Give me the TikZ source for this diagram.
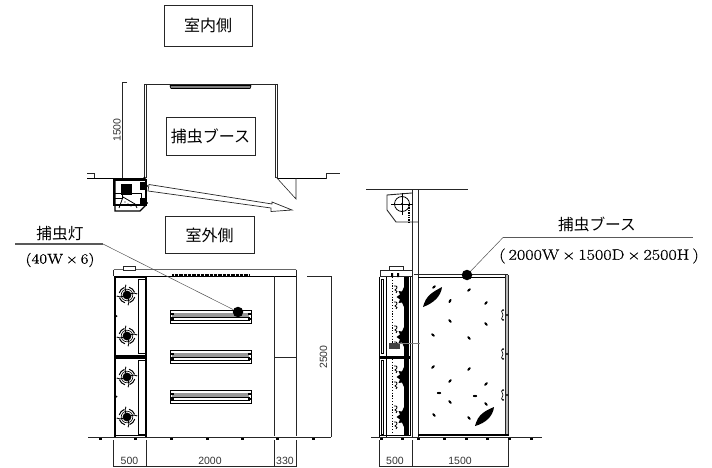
\documentclass[tikz,border=0pt]{standalone}
\usepackage{fontspec}
\newfontfamily\jpf{Noto Sans CJK JP}
\newfontfamily\dimf{Liberation Sans}
\newfontfamily\serf[FakeBold=0.5]{Latin Modern Roman}
\usetikzlibrary{calc}
\definecolor{ln}{gray}{0.15}
\definecolor{wallgray}{gray}{0.72}
\tikzset{
 lbox/.style={draw=black!85,line width=0.8pt,minimum width=#1,inner sep=0pt,font=\jpf\fontsize{16}{16}\selectfont,text=black},
 jplab/.style={inner sep=0pt,font=\jpf\fontsize{15.7}{16}\selectfont,text=black},
 serlab/.style={inner sep=0pt,xscale=1.14,font=\serf\fontsize{#1}{14}\selectfont,text=black},
 dimlab/.style={inner sep=0pt,font=\dimf\fontsize{10.5}{12}\selectfont,text=black!80},
 thinl/.style={draw=ln,line width=0.6pt},
 medl/.style={draw=ln,line width=0.9pt},
 thick1/.style={draw=black,line width=1.4pt},
 dot1/.style={circle,fill=black,minimum size=10.5pt,inner sep=0pt},
 leader/.style={draw=ln!80,line width=0.5pt},
 callline/.style={draw=black!65,line width=1.3pt},
 barl/.style={draw=black,line width=1pt,fill=white},
}
\newcommand{\lowtxt}[1]{\raisebox{-6pt}[0pt][0pt]{#1}}
\newcommand{\fanx}[2]{%
 \begin{scope}[shift={(#1,#2)}]
 \fill[black] (0,0) circle (4.4);
 \draw[black,line width=0.6pt] (0,0) circle (5.8);
 \foreach \a in {20,110,200,290}{
  \draw[black,line width=1pt,rotate=\a] (8,0) arc[start angle=0,end angle=-55,radius=8];
  \draw[black,line width=0.9pt,rotate=\a] (4,0) .. controls (6.5,0.5) and (8.5,0.5) .. (10,2.5);
 }
 \end{scope}}
\newcommand{\lamp}[1]{%
 \draw[barl] (170,#1) rectangle (251,#1+13.5);
 \fill[gray!80] (172,#1+2.5) rectangle (249,#1+6.5);
 \draw[black,line width=0.7pt] (171,#1+7) -- (250,#1+7);
 \draw[black,line width=0.7pt] (171,#1+10.5) -- (250,#1+10.5);
 \fill[black] (171,#1+3) rectangle (173.5,#1+5);
 \fill[black] (171,#1+8) rectangle (173.5,#1+10);
 \fill[black] (248,#1+3) rectangle (250.5,#1+5);
 \fill[black] (248,#1+8) rectangle (250.5,#1+10);
}
\newcommand{\bugx}[3][35]{\fill[black,rotate around={#1:(#2,#3)}] (#2,#3) ellipse (2.2 and 1.1);}
\newcommand{\gearx}[1]{%
 \fill[black] (396.5,#1) -- (400,#1-2.5) -- (398.5,#1-6) -- (402,#1-5.5) -- (404,#1-10) -- (404,#1+10) -- (402,#1+5.5) -- (398.5,#1+6) -- (400,#1+2.5) -- cycle;
 \draw[black,line width=0.8pt] (394,#1-11) .. controls (397,#1-12) and (398.5,#1-9) .. (395,#1-7) .. controls (397,#1-6) and (398,#1-5) .. (396,#1-4);
 \draw[black,line width=0.8pt] (394,#1+5) .. controls (397,#1+4) and (398.5,#1+7) .. (395,#1+9) .. controls (397,#1+10) and (398,#1+11) .. (396,#1+12);
}
\begin{document}
\begin{tikzpicture}[x=1pt,y=-1pt]
\useasboundingbox (0,0) rectangle (712,468);
% ---------- labels with boxes
\node[lbox=88pt,minimum height=41pt] (inroom) at (208,25.5) {\lowtxt{室内側}};
\node[lbox=89pt,minimum height=38pt] (booth) at (210.5,136) {\lowtxt{捕虫ブース}};
\node[lbox=89pt,minimum height=37pt] (outroom) at (209.5,235) {\lowtxt{室外側}};
% ---------- plan view
\draw[medl] (144,84.5) -- (277,84.5);
\draw[medl] (144,84) -- (144,178) (146.5,84) -- (146.5,178);
\draw[medl] (275,84) -- (275,178) (277.5,84) -- (277.5,178);
\draw[black,line width=0.9pt] (170,85.5) -- (251,85.5) (171,88.5) -- (250,88.5) (170,85.5) -- (171,88.5) (251,85.5) -- (250,88.5);
\fill[gray] (171,86) rectangle (250,88);
\draw[thinl] (127,82) -- (122,82) -- (122,178);
\node[dimlab,rotate=90] (d1500a) at (117,130) {1500};
\draw[medl] (87,173) -- (94,173) -- (94,178.5);
\draw[thick1] (87,178.5) -- (144,178.5);
\draw[thick1] (277,178.5) -- (326,178.5);
\draw[medl] (326,178.5) -- (326,173) -- (340,173);
\draw[thinl] (276,177) -- (296,199) -- (296,178);
\draw[draw=ln,fill=white,line width=0.7pt] (149,184.5) -- (272,204) -- (272,202) -- (292,210) -- (271,211.5) -- (271,208) -- (148,191) -- cycle;
% plan unit
\draw[black,line width=1.1pt,fill=white] (114,180) rectangle (146,205);
\draw[black,line width=1.1pt] (115,181) -- (115,211) -- (140,211) -- (146,205);
\fill[black] (121,184) rectangle (132,195);
\draw[black,line width=0.8pt] (114,193) -- (122,193) -- (122,198) -- (114,198);
\draw[black,line width=0.8pt] (132,193) -- (141,193) -- (141,198);
\fill[black] (140,182) rectangle (146,190);
\fill[black] (140,198) rectangle (146,205);
\draw[black,line width=0.8pt] (119,208) -- (123,197) -- (135,204) -- (137,208);
\foreach \x/\y in {125/202,128/204,131/206}{\fill[black] (\x,\y) circle (0.7);}
\fill[black] (144.5,178) circle (1.5) (147,186) circle (1) (147,203) circle (1);
% ---------- front elevation
\draw[medl,draw=gray!80!black,line width=1.2pt] (113.5,269.5) -- (296,269.5);
\draw[thinl] (113.5,269.5) -- (113.5,276) (296,269.5) -- (296,276);
\draw[black,line width=0.9pt] (113.5,276) -- (296,276);
\draw[thinl,fill=white] (123,266) rectangle (135,270);
\draw[black,line width=2pt,dash pattern=on 0.5pt off 0.8pt] (172,274.5) -- (249,274.5);
\draw[black,line width=2pt] (114.5,276) -- (114.5,437);
\draw[black,line width=1.6pt] (114,277) -- (146,277);
\draw[black,line width=1.1pt] (146,276) -- (146,437);
\draw[black,line width=0.7pt,fill=white] (138.5,279) rectangle (145,353);
\draw[black,line width=0.7pt,fill=white] (138.5,360) rectangle (145,434);
\fill[black] (114,354.5) rectangle (146,358.5);
\draw[black,line width=1.4pt] (114,435.5) -- (146,435.5);
\fill[black] (116.5,316) circle (1) (116.5,396.5) circle (1);
\fanx{127}{295}\fanx{127}{336}\fanx{127}{377}\fanx{127}{417}
\lamp{310}\lamp{350}\lamp{390}
\draw[medl] (274.5,276) -- (274.5,436) (296,269.5) -- (296,436);
\draw[medl] (274.5,357) -- (296,357);
\draw[thinl] (307,276) -- (331,276) -- (331,437);
\node[dimlab,rotate=90] (d2500) at (323.5,357) {2500};
\draw[medl] (88,437) -- (331,437);
\foreach \x in {100,135,171,207,242,277,313}{\fill[black] (\x-1.5,438) rectangle (\x+1.5,439.5);}
% dims bottom of front
\draw[thinl] (113.5,440) -- (113.5,467) (146,440) -- (146,467);
\draw[medl] (274.5,440) -- (274.5,466.5) (296,440) -- (296,466.5);
\draw[thinl] (113.5,466.5) -- (296,466.5);
\node[dimlab] (d500a) at (129.5,461) {500};
\node[dimlab] (d2000) at (210,461) {2000};
\node[dimlab] (d330) at (285,461) {330};
% callout left
\node[jplab] (lamplab) at (60,234) {捕虫灯};
\node[serlab=14] (lampsize) at (60,260) {(40W\,×\,6)};
\coordinate (l0) at (15,244);
\coordinate (l1) at (103,244);
\node[dot1] (lampdot) at (238,312) {};
\draw[callline] (l0) -- (l1);
\draw[leader] (l1) -- (lampdot);
% ---------- side elevation
\draw[medl] (366,189) -- (468,189);
\draw[medl] (412,189) -- (412,437) (418,189) -- (418,437);
\draw[medl] (412,193) -- (387,195) -- (387,210) -- (396,222) -- (418,222);
\draw[black,line width=0.8pt] (402,204) circle (7.5);
\draw[black,line width=0.6pt] (391,204) -- (413,204) (402,193) -- (402,215);
\fill[black] (402,204) circle (1.2);
\draw[black,line width=1.4pt,densely dotted] (409,205) -- (409,222);
% side unit
\draw[thinl,fill=white] (389,266) rectangle (403,270);
\draw[medl] (380,276) -- (380,270) -- (411.5,270);
\draw[medl] (379.5,276) -- (412,276);
\draw[black,line width=1.5pt] (379.5,277) -- (379.5,437);
\draw[black,line width=0.7pt] (381,279) rectangle (383.5,353);
\draw[black,line width=0.7pt] (381,360) rectangle (383.5,434);
\draw[black,line width=0.7pt] (386,277) -- (386,437);
\fill[black] (404,277) rectangle (409,436);
\draw[black,line width=0.7pt] (410.5,277) -- (410.5,436);
\fill[black] (380,356) rectangle (411,358.5);
\fill[black] (391,273) rectangle (393,277) (397,273) rectangle (399,277);
\draw[black,line width=1pt,dash pattern=on 1.2pt off 1.6pt] (392,277) -- (392,343);
\draw[black,line width=1pt,dash pattern=on 1.2pt off 1.6pt] (392,359) -- (392,434);
\gearx{297}\gearx{337}\gearx{377}\gearx{417}
\fill[black!75] (389,343) rectangle (400,349);
\draw[gray,line width=0.5pt] (398,343) -- (420,343);
\draw[black,line width=1.4pt] (380,435.5) -- (411,435.5);
% booth
\draw[medl] (414,274.5) -- (508,274.5);
\draw[medl,draw=black] (418,277) -- (506,277);
\fill[wallgray] (505.5,275) rectangle (508.5,436);
\draw[thinl] (505.5,275) -- (505.5,436) (508.5,275) -- (508.5,436);
\draw[black,line width=1.4pt] (418,435) -- (509,435);
\draw[medl] (371,437) -- (542,437);
\foreach \x in {381,402,418,444,466,487,509,531}{\fill[black] (\x-1.5,438) rectangle (\x+1.5,439.5);}
\foreach \x/\y/\a in {434/287/40,469/290/40,450/301/60,486/303/50,450/321/-50,486/324/-50,433/335/-40,469/338/-50,433/367/45,469/369/50,450/381/50,486/384/45,439/393/0,475/396/0,450/402/-50,486/404/-50,434/415/-50,469/418/-50}{\bugx[\a]{\x}{\y}}
\fill[black] (423,307) .. controls (426,295) and (433,292) .. (442,287) .. controls (441,296) and (434,303) .. cycle;
\fill[black] (475,426) .. controls (478,414) and (485,411) .. (494,407) .. controls (493,416) and (486,423) .. cycle;
\foreach \y in {315,354,395}{
 \fill[black] (507,\y) circle (1.1);
 \draw[black,line width=0.6pt] (504,\y-5) -- (501.5,\y-4) -- (503,\y) -- (501.5,\y+4) -- (504,\y+5);
 \fill[black] (503,\y-5) circle (0.8) (503,\y+5) circle (0.8);
}
% dims bottom of side
\draw[thinl] (379.5,440) -- (379.5,467) (412,440) -- (412,467) (508.5,440) -- (508.5,467);
\draw[medl] (379.5,466.5) -- (508.5,466.5);
\node[dimlab] (d500b) at (395,461) {500};
\node[dimlab] (d1500b) at (460,461) {1500};
% callout right
\node[jplab] (boothlab) at (597,224) {捕虫ブース};
\node[serlab=15,xscale=1.06] (boothsize) at (599,256) {(\,2000W\,×\,1500D\,×\,2500H\,)};
\node[dot1] (boothdot) at (467,275) {};
\coordinate (r1) at (503,237.5);
\coordinate (r2) at (693,237.5);
\draw[leader] (boothdot) -- (r1);
\draw[callline] (r1) -- (r2);
\end{tikzpicture}
\end{document}
